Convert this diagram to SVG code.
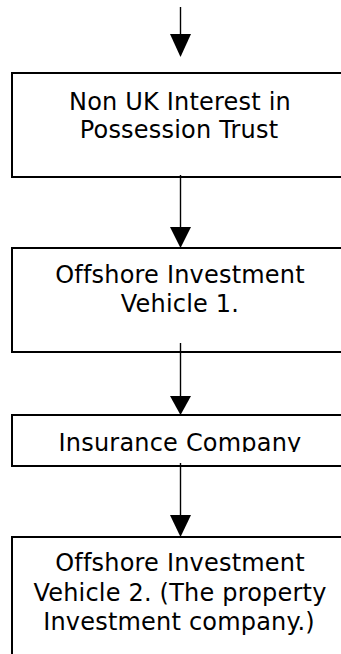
<svg xmlns="http://www.w3.org/2000/svg" width="341" height="654" viewBox="0 0 341 654">
<style>
.box{fill:#fff;stroke:#000;stroke-width:2}
.lbl{font-family:"DejaVu Sans",Verdana,sans-serif;font-size:24px;letter-spacing:0.2px;fill:#000;text-anchor:middle}
.ln{stroke:#000;stroke-width:1.4;fill:none}
.hd{fill:#000;stroke:none}
</style>
<defs>
<clipPath id="c3"><rect x="12" y="416" width="340" height="36"/></clipPath>
</defs>
<g id="node1">
<rect class="box" x="12" y="73" width="340" height="104"/>
<text class="lbl" x="180" y="110">Non UK Interest in</text>
<text class="lbl" x="179" y="138">Possession Trust</text>
</g>
<g id="node2">
<rect class="box" x="12" y="248" width="340" height="104"/>
<text class="lbl" x="180" y="283">Offshore Investment</text>
<text class="lbl" x="180" y="312">Vehicle 1.</text>
</g>
<g id="node3">
<rect class="box" x="12" y="415" width="340" height="51"/>
<text class="lbl" x="180" y="451" clip-path="url(#c3)">Insurance Company</text>
</g>
<g id="node4">
<rect class="box" x="12" y="537" width="340" height="130"/>
<text class="lbl" x="180" y="571">Offshore Investment</text>
<text class="lbl" x="180" y="601">Vehicle 2. (The property</text>
<text class="lbl" x="179" y="630">Investment company.)</text>
</g>
<g id="connectors">
<line class="ln" x1="180.5" y1="7" x2="180.5" y2="36"/>
<polygon class="hd" points="170,34 191,34 180.5,57"/>
<line class="ln" x1="180.5" y1="175" x2="180.5" y2="230"/>
<polygon class="hd" points="170,227 191,227 180.5,248"/>
<line class="ln" x1="180.5" y1="343" x2="180.5" y2="398"/>
<polygon class="hd" points="170,396 191,396 180.5,415"/>
<line class="ln" x1="180.5" y1="463" x2="180.5" y2="517"/>
<polygon class="hd" points="170,515 191,515 180.5,537"/>
</g>
</svg>
